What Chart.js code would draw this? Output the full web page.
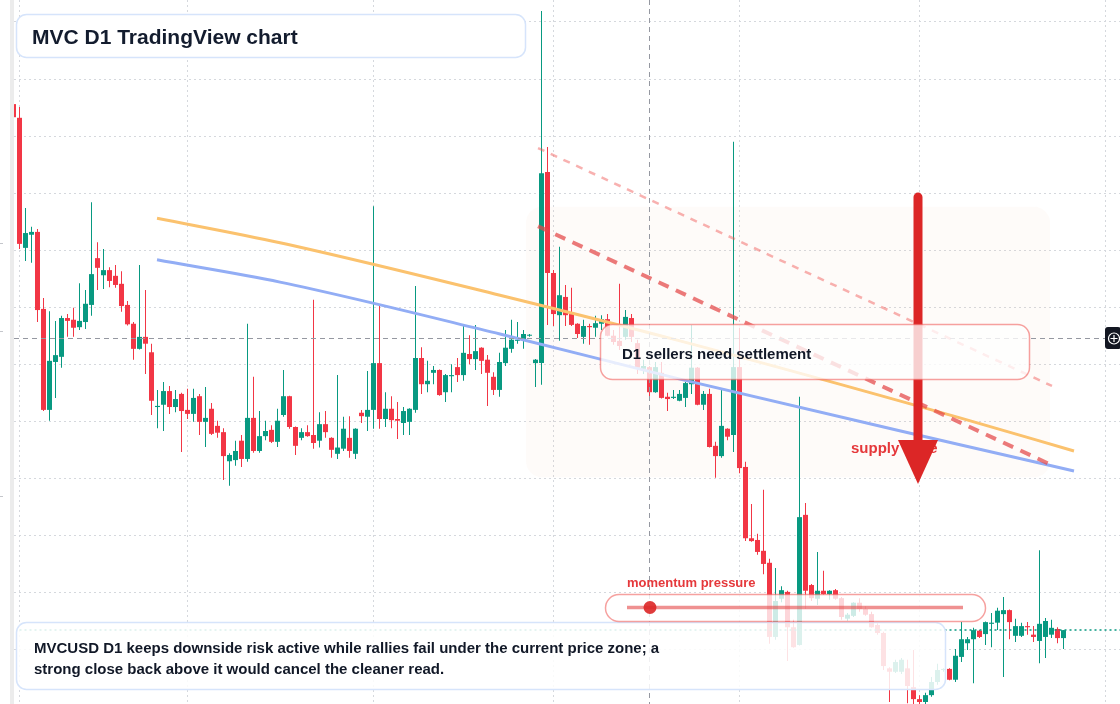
<!DOCTYPE html>
<html>
<head>
<meta charset="utf-8">
<script src="https://cdn.jsdelivr.net/npm/chart.js@4.4.1/dist/chart.umd.min.js"></script>
<style>
  html, body { margin: 0; padding: 0; background: #ffffff; }
  #wrap { position: relative; width: 1120px; height: 704px; }
</style>
</head>
<body>
<div id="wrap"><canvas id="myChart" width="1120" height="704"></canvas></div>
<script>
// MVCUSD daily candles, price in 1e-4 USD, day 0 = 1 Feb
var firstDay = -1;
var opens = [
  29.56, 29.32, 27.04, 27.27, 27.32, 25.97, 24.20, 25.04, 25.13, 25.81,
  25.78, 25.65, 25.74, 26.04, 26.86, 26.56, 26.65, 26.55, 26.41, 26.04,
  25.71, 25.27, 25.48, 25.21, 24.25, 24.29, 24.53, 24.25, 24.48, 24.20,
  24.13, 24.44, 23.99, 24.22, 23.92, 23.81, 23.30, 23.32, 23.66, 23.34,
  24.06, 23.48, 23.74, 23.85, 23.64, 24.11, 24.44, 23.90, 23.71, 23.81,
  23.76, 23.66, 23.95, 23.71, 23.43, 23.52, 23.71, 23.43, 24.15, 24.08,
  24.20, 25.02, 24.04, 24.22, 24.04, 23.97, 23.99, 24.20, 25.11, 24.65,
  24.85, 24.90, 24.51, 24.79, 24.95, 24.81, 25.18, 25.09, 25.29, 25.08,
  24.78, 24.55, 25.02, 25.27, 25.41, 25.43, 25.50, 25.02, 25.02, 28.37,
  26.60, 25.86, 26.18, 25.88, 25.71, 25.48, 25.67, 25.64, 25.71, 25.79,
  25.50, 25.41, 25.48, 25.81, 25.37, 24.92, 24.95, 24.51, 24.85, 24.43,
  24.41, 24.36, 24.41, 24.65, 24.94, 24.29, 24.48, 23.57, 23.39, 23.87,
  23.76, 24.95, 23.20, 21.95, 21.92, 21.73, 21.52, 20.22, 20.89, 21.01,
  20.39, 20.08, 22.36, 21.13, 20.89, 21.03, 20.97, 21.04, 20.90, 20.54,
  20.59, 20.82, 20.71, 20.62, 20.43, 20.29, 19.67, 19.61, 19.61, 19.67,
  19.34, 19.13, 19.08, 19.20, 19.43, 19.64, 19.66, 19.47, 19.87, 20.11,
  20.18, 20.33, 20.27, 20.45, 20.47, 20.62, 20.69, 20.24, 20.24, 20.41,
  20.26, 20.15, 20.22, 20.26, 20.36, 20.20
];
var highs = [
  29.58, 29.51, 27.74, 27.41, 27.37, 26.16, 25.93, 25.76, 25.85, 25.88,
  25.99, 26.42, 26.30, 27.84, 27.14, 27.02, 26.70, 26.74, 26.63, 26.11,
  25.74, 26.74, 26.30, 25.36, 24.55, 24.69, 24.62, 24.55, 24.50, 24.57,
  24.57, 24.48, 24.60, 24.32, 24.01, 23.88, 23.44, 23.66, 23.76, 25.71,
  24.78, 24.18, 24.01, 23.93, 24.22, 24.90, 24.45, 23.91, 23.88, 23.93,
  26.13, 24.16, 24.18, 23.72, 24.81, 24.08, 24.09, 23.88, 24.20, 24.88,
  27.77, 26.04, 24.51, 24.44, 24.34, 24.25, 24.23, 26.37, 25.30, 25.06,
  24.97, 24.91, 24.83, 25.00, 25.11, 25.69, 25.51, 25.69, 25.30, 25.16,
  24.86, 25.20, 25.60, 25.78, 25.74, 25.60, 25.53, 25.09, 31.19, 28.81,
  26.65, 27.06, 26.39, 26.34, 25.72, 25.78, 25.71, 25.85, 25.86, 25.88,
  25.60, 26.41, 25.95, 25.88, 25.43, 25.08, 24.97, 25.04, 25.04, 24.50,
  24.55, 24.55, 24.69, 25.69, 24.95, 24.53, 24.57, 23.64, 24.57, 23.88,
  28.90, 25.64, 23.29, 22.55, 22.03, 22.80, 21.59, 21.43, 21.11, 21.03,
  20.52, 24.43, 22.57, 21.15, 21.71, 21.38, 21.04, 21.06, 20.92, 20.64,
  20.83, 20.90, 20.76, 20.66, 20.46, 20.31, 19.69, 19.82, 19.85, 19.82,
  19.99, 19.20, 19.24, 19.52, 19.75, 19.67, 19.67, 20.01, 20.48, 20.22,
  20.38, 20.34, 20.49, 20.64, 20.73, 20.92, 20.70, 20.54, 20.47, 20.48,
  20.41, 21.74, 20.55, 20.52, 20.39, 20.34
];
var lows = [
  29.30, 27.02, 26.81, 26.78, 25.74, 24.18, 24.01, 24.41, 24.94, 25.48,
  25.48, 25.60, 25.62, 25.85, 26.30, 26.32, 26.35, 26.34, 25.92, 25.68,
  25.08, 25.26, 24.83, 24.11, 23.88, 23.83, 24.13, 24.16, 23.46, 24.04,
  23.99, 23.76, 23.55, 23.76, 23.71, 22.97, 22.87, 23.22, 23.20, 23.29,
  23.45, 23.45, 23.67, 23.62, 23.55, 24.08, 23.87, 23.41, 23.67, 23.73,
  23.52, 23.54, 23.71, 23.36, 23.34, 23.48, 23.36, 23.34, 23.97, 23.83,
  23.87, 23.87, 23.90, 23.88, 23.69, 23.76, 23.76, 24.15, 24.48, 24.51,
  24.65, 24.45, 24.34, 24.51, 24.69, 24.71, 25.00, 24.90, 24.83, 24.27,
  24.46, 24.43, 24.97, 25.20, 25.36, 25.27, 25.48, 24.60, 24.64, 25.69,
  25.67, 25.41, 25.67, 25.67, 25.46, 25.36, 25.34, 25.48, 25.60, 25.49,
  25.34, 25.25, 25.43, 25.39, 24.83, 24.83, 24.43, 24.50, 24.40, 24.18,
  24.39, 24.35, 24.25, 24.48, 24.28, 24.20, 23.54, 23.01, 23.36, 23.67,
  23.46, 23.09, 21.90, 21.89, 21.66, 21.32, 20.10, 20.17, 20.83, 19.80,
  20.03, 20.07, 20.71, 20.85, 20.78, 20.96, 20.87, 20.87, 20.52, 20.50,
  20.57, 20.66, 20.59, 20.38, 20.26, 19.64, 19.08, 19.59, 19.57, 19.06,
  19.04, 19.04, 19.04, 19.17, 19.38, 19.61, 19.46, 19.43, 19.78, 19.99,
  19.41, 20.20, 20.08, 20.04, 20.34, 19.52, 20.18, 20.13, 20.22, 20.26,
  20.13, 19.76, 19.85, 20.20, 20.11, 20.01
];
var closes = [
  29.33, 27.11, 27.30, 27.32, 25.95, 24.20, 25.06, 25.16, 25.81, 25.76,
  25.64, 25.76, 26.06, 26.58, 26.69, 26.65, 26.46, 26.39, 26.02, 25.70,
  25.27, 25.48, 25.36, 24.36, 24.27, 24.53, 24.25, 24.39, 24.18, 24.13,
  24.41, 23.99, 24.06, 23.78, 23.80, 23.39, 23.41, 23.48, 23.34, 24.06,
  23.48, 23.74, 23.83, 23.64, 24.01, 24.44, 23.90, 23.57, 23.81, 23.74,
  23.62, 23.95, 23.81, 23.50, 23.54, 23.87, 23.48, 23.87, 24.09, 24.20,
  25.02, 24.04, 24.22, 24.02, 24.01, 24.18, 24.22, 25.11, 24.65, 24.71,
  24.90, 24.46, 24.81, 24.81, 24.81, 25.20, 25.09, 25.23, 25.06, 24.85,
  24.55, 25.04, 25.29, 25.43, 25.43, 25.53, 25.51, 25.08, 28.35, 26.60,
  25.88, 26.21, 25.86, 25.69, 25.53, 25.67, 25.65, 25.72, 25.79, 25.50,
  25.39, 25.32, 25.83, 25.48, 24.94, 24.97, 24.51, 24.95, 24.41, 24.39,
  24.43, 24.48, 24.67, 24.94, 24.29, 24.48, 23.55, 23.39, 23.92, 23.73,
  24.95, 23.18, 21.95, 21.90, 21.71, 21.50, 20.22, 20.85, 21.04, 20.39,
  20.04, 22.32, 21.03, 20.90, 21.03, 20.97, 21.03, 20.89, 20.57, 20.61,
  20.82, 20.71, 20.61, 20.39, 20.29, 19.71, 19.61, 19.78, 19.82, 19.36,
  19.13, 19.08, 19.20, 19.43, 19.64, 19.66, 19.47, 19.89, 20.18, 20.18,
  20.34, 20.22, 20.48, 20.47, 20.68, 20.69, 20.48, 20.41, 20.41, 20.39,
  20.22, 20.45, 20.50, 20.38, 20.20, 20.34
];

// month starts (Feb..Aug) and price grid
var monthStarts = [0, 28, 59, 89, 120, 150, 181];
var priceGrid = [20, 21, 22, 23, 24, 25, 26, 27, 28, 29, 30, 31];

// drawn trend curves
var orangeDays = [22.92, 43.42, 80.08, 110.08, 156.75, 175.75];
var orangePrices = [27.56, 27.13, 26.21, 25.41, 24.06, 23.48];
var blueDays = [22.92, 43.42, 80.08, 110.08, 156.75, 175.75];
var bluePrices = [26.83, 26.44, 25.53, 24.74, 23.59, 23.13];
// red channel (dashed)
var channelDays = [86.42, 172.08];
var channelTop = [28.79, 24.62];
var channelMid = [27.42, 23.23];
// supply zone and arrow
var zoneDays = [84.42, 171.75];
var zonePrices = [27.76, 23.02];
var arrowDay = 149.75;
var arrowPrices = [27.93, 22.90];
// crosshair
var crossDay = 105;
var crossPrice = 25.46;

var upColor = "#089981";
var downColor = "#f23645";
var fontFam = '"Liberation Sans", Arial, Helvetica, sans-serif';

var days = opens.map(function (_, k) { return firstDay + k; });
var candleColors = days.map(function (_, k) {
  return closes[k] >= opens[k] ? upColor : downColor;
});
var lastPrice = closes[closes.length - 1];

var xMin = -0.9167, xMax = 183.4167;
var yMin = 19.0447, yMax = 31.3848;

function roundBox(ctx, x, y, w, h, r, fill, stroke, lw) {
  ctx.beginPath();
  ctx.moveTo(x + r, y);
  ctx.arcTo(x + w, y, x + w, y + h, r);
  ctx.arcTo(x + w, y + h, x, y + h, r);
  ctx.arcTo(x, y + h, x, y, r);
  ctx.arcTo(x, y, x + w, y, r);
  ctx.closePath();
  if (fill) { ctx.fillStyle = fill; ctx.fill(); }
  if (stroke) { ctx.strokeStyle = stroke; ctx.lineWidth = lw || 1; ctx.stroke(); }
}

var overlay = {
  id: "overlay",
  beforeDatasetsDraw: function (chart) {
    var ctx = chart.ctx, x = chart.scales.x, y = chart.scales.y;
    ctx.save();
    var zx0 = x.getPixelForValue(zoneDays[0]), zx1 = x.getPixelForValue(zoneDays[1]);
    var zy0 = y.getPixelForValue(zonePrices[0]), zy1 = y.getPixelForValue(zonePrices[1]);
    roundBox(ctx, zx0, zy0, zx1 - zx0, zy1 - zy0, 16, "rgba(240,200,170,0.07)", null);
    ctx.restore();
  },
  afterDatasetsDraw: function (chart) {
    var ctx = chart.ctx, x = chart.scales.x, y = chart.scales.y;
    var area = chart.chartArea;
    ctx.save();

    // crosshair
    var cx = Math.round(x.getPixelForValue(crossDay) - 0.5) + 0.5;
    var cy = Math.round(y.getPixelForValue(crossPrice) - 0.5) + 0.5;
    ctx.strokeStyle = "#9598a1";
    ctx.lineWidth = 1;
    ctx.setLineDash([5, 4]);
    ctx.beginPath();
    ctx.moveTo(cx, area.top); ctx.lineTo(cx, area.bottom);
    ctx.moveTo(area.left, cy); ctx.lineTo(1105, cy);
    ctx.stroke();
    ctx.setLineDash([]);

    // supply zone label, partly hidden by the arrow head
    ctx.fillStyle = "#e5383b";
    ctx.font = "bold 15px " + fontFam;
    ctx.textBaseline = "alphabetic";
    ctx.fillText("supply zone", 851, 453);

    // arrow
    var ax = x.getPixelForValue(arrowDay);
    var ay0 = y.getPixelForValue(arrowPrices[0]);
    var ay1 = y.getPixelForValue(arrowPrices[1]);
    ctx.strokeStyle = "#dc2626";
    ctx.lineWidth = 9;
    ctx.lineCap = "round";
    ctx.beginPath();
    ctx.moveTo(ax, ay0);
    ctx.lineTo(ax, ay1 - 40);
    ctx.stroke();
    ctx.fillStyle = "#dc2626";
    ctx.beginPath();
    ctx.moveTo(ax - 20, ay1 - 44);
    ctx.lineTo(ax + 20, ay1 - 44);
    ctx.lineTo(ax, ay1);
    ctx.closePath();
    ctx.fill();
    ctx.lineCap = "butt";

    // settlement box
    roundBox(ctx, 600.5, 324.5, 429, 55, 12, "rgba(255,255,255,0.78)", "rgba(239,83,80,0.55)", 1.5);
    ctx.fillStyle = "#111827";
    ctx.font = "bold 15px " + fontFam;
    ctx.fillText("D1 sellers need settlement", 622, 359);

    // note box
    roundBox(ctx, 16.5, 622.5, 929, 67, 10, "rgba(255,255,255,0.86)", "#d6e4fb", 1.5);
    ctx.fillStyle = "#111827";
    ctx.font = "bold 15px " + fontFam;
    ctx.fillText("MVCUSD D1 keeps downside risk active while rallies fail under the current price zone; a", 34, 653);
    ctx.fillText("strong close back above it would cancel the cleaner read.", 34, 674);

    // momentum pill
    roundBox(ctx, 605.5, 594.5, 380, 27, 13.5, "rgba(255,255,255,0.8)", "rgba(239,83,80,0.55)", 1.5);
    ctx.strokeStyle = "rgba(229,72,72,0.6)";
    ctx.lineWidth = 3.5;
    ctx.beginPath();
    ctx.moveTo(627, 607.5); ctx.lineTo(963, 607.5);
    ctx.stroke();
    ctx.fillStyle = "rgba(220,38,38,0.9)";
    ctx.beginPath();
    ctx.arc(650, 607.5, 6.5, 0, Math.PI * 2);
    ctx.fill();
    ctx.fillStyle = "#e5383b";
    ctx.font = "bold 13px " + fontFam;
    ctx.fillText("momentum pressure", 627, 587);

    // title box
    roundBox(ctx, 16.5, 14.5, 509, 43, 10, "#ffffff", "#d6e4fb", 1.5);
    ctx.fillStyle = "#131c2e";
    ctx.font = "bold 21px " + fontFam;
    ctx.fillText("MVC D1 TradingView chart", 32, 43.5);

    // crosshair marker on the right
    roundBox(ctx, 1105, 327, 16, 22, 3, "#131722", null);
    ctx.strokeStyle = "#ffffff";
    ctx.lineWidth = 1.2;
    ctx.beginPath();
    ctx.arc(1114, 338.5, 5.5, 0, Math.PI * 2);
    ctx.moveTo(1110.5, 338.5); ctx.lineTo(1117.5, 338.5);
    ctx.moveTo(1114, 335); ctx.lineTo(1114, 342);
    ctx.stroke();
    ctx.restore();
  },
  afterDraw: function (chart) {
    var ctx = chart.ctx;
    ctx.save();
    ctx.fillStyle = "#ececec";
    ctx.fillRect(10, 0, 4, 704);
    ctx.fillStyle = "#c4c6cb";
    [243, 331, 496].forEach(function (t) { ctx.fillRect(0, t, 3, 1); });
    ctx.restore();
  }
};

var ctx = document.getElementById("myChart");
var myChart = new Chart(ctx, {
  type: "bar",
  data: {
    datasets: [
      {
        type: "bar",
        label: "wicks",
        data: days.map(function (d, k) { return { x: d, y: [lows[k], highs[k]] }; }),
        backgroundColor: candleColors,
        barThickness: 1,
        grouped: false,
        inflateAmount: 0,
        borderWidth: 0,
        order: 6
      },
      {
        type: "bar",
        label: "bodies",
        data: days.map(function (d, k) { return { x: d, y: [opens[k], closes[k]] }; }),
        backgroundColor: candleColors,
        barThickness: 5,
        minBarLength: 1,
        grouped: false,
        inflateAmount: 0,
        borderWidth: 0,
        order: 5
      },
      {
        type: "line",
        label: "last price",
        data: [{ x: 0, y: lastPrice }, { x: xMax, y: lastPrice }],
        borderColor: upColor,
        borderWidth: 1.5,
        borderDash: [2, 3],
        pointRadius: 0,
        order: 4
      },
      {
        type: "line",
        label: "blue curve",
        data: blueDays.map(function (d, k) { return { x: d, y: bluePrices[k] }; }),
        borderColor: "#92adf5",
        borderWidth: 3,
        pointRadius: 0,
        cubicInterpolationMode: "monotone",
        order: 3
      },
      {
        type: "line",
        label: "orange curve",
        data: orangeDays.map(function (d, k) { return { x: d, y: orangePrices[k] }; }),
        borderColor: "#fbc26e",
        borderWidth: 3,
        pointRadius: 0,
        cubicInterpolationMode: "monotone",
        order: 3
      },
      {
        type: "line",
        label: "channel top",
        data: channelDays.map(function (d, k) { return { x: d, y: channelTop[k] }; }),
        borderColor: "rgba(239,83,80,0.45)",
        borderWidth: 2.5,
        borderDash: [7, 7],
        pointRadius: 0,
        order: 2
      },
      {
        type: "line",
        label: "channel",
        data: channelDays.map(function (d, k) { return { x: d, y: channelMid[k] }; }),
        borderColor: "rgba(229,72,72,0.72)",
        borderWidth: 4,
        borderDash: [11, 8],
        pointRadius: 0,
        order: 1
      }
    ]
  },
  options: {
    responsive: false,
    animation: false,
    devicePixelRatio: 1,
    layout: { autoPadding: false, padding: { left: 14, right: 0, top: 0, bottom: 0 } },
    plugins: { legend: { display: false }, tooltip: { enabled: false } },
    scales: {
      x: {
        type: "linear",
        min: xMin,
        max: xMax,
        offset: false,
        ticks: { display: false },
        border: { display: false, dash: [2, 3] },
        grid: { color: "#d5d8dd", drawTicks: false, offset: false },
        afterBuildTicks: function (s) { s.ticks = monthStarts.map(function (v) { return { value: v }; }); }
      },
      y: {
        type: "linear",
        min: yMin,
        max: yMax,
        ticks: { display: false },
        border: { display: false, dash: [2, 3] },
        grid: { color: "#d5d8dd", drawTicks: false },
        afterBuildTicks: function (s) { s.ticks = priceGrid.map(function (v) { return { value: v }; }); }
      }
    }
  },
  plugins: [overlay]
});
</script>
</body>
</html>
